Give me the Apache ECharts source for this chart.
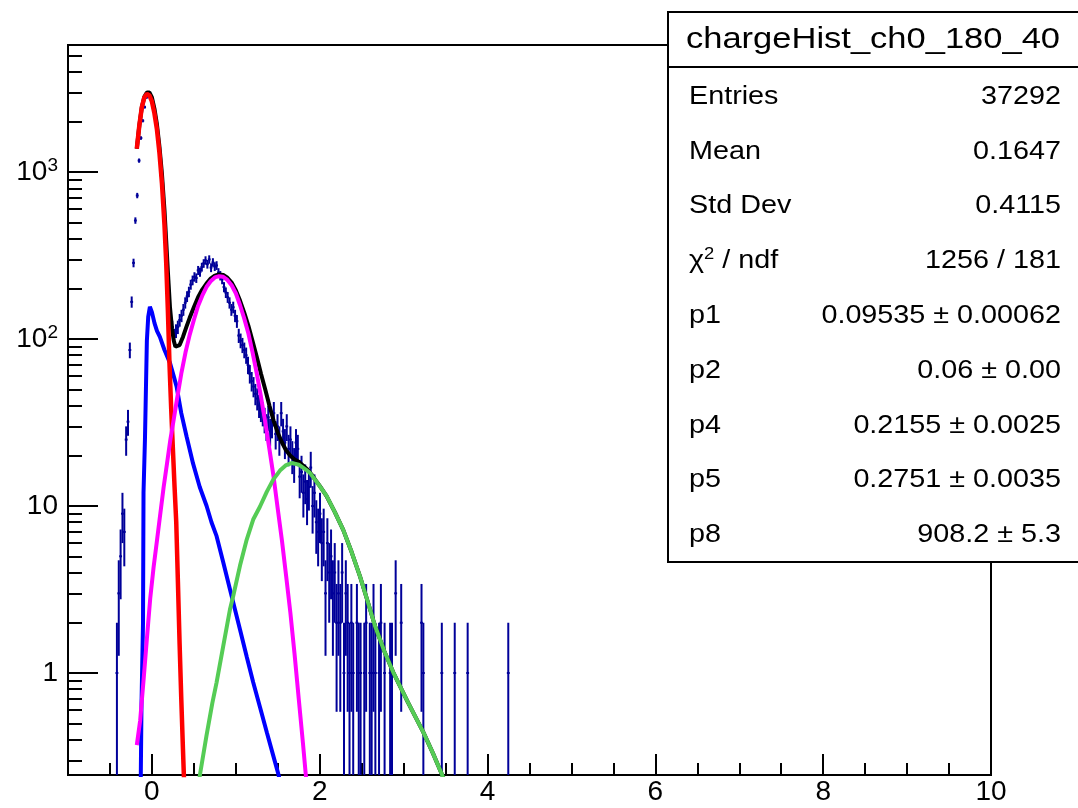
<!DOCTYPE html>
<html><head><meta charset="utf-8">
<script src="https://cdn.jsdelivr.net/npm/echarts@6/dist/echarts.min.js"></script>
<style>html,body{margin:0;padding:0;background:#fff}#c{width:1078px;height:808px}</style>
</head><body><div id="c"></div>
<script>
// ---------- data ----------
const histMin = -1, binWidth = 0.022, firstBin = 26;
const counts = [
 1,3,5,9,7,25,32,86,167,286,
 513,724,1172,1600,2030,2450,2800,2950,2870,2600,
 2300,2000,1650,1300,950,680,450,290,190,140,
 118,105,112,118,130,138,150,165,180,192,
 212,225,236,232,258,252,270,284,296,281,
 300,268,288,272,276,250,240,228,205,190,
 178,165,150,155,138,128,105,98,92,86,
 80,70,62,56,52,47,44,40,38,36,
 33,30,34,28,31,36,27,30,25,36,
 28,24,30,22,25,20,18,24,22,15,
 16,12,14,11,13,17,10,12,8,7,
 9,6,7,3,6,4,5,3,4,2,
 3,2,4,1,3,2,1,2,1,0,
 2,1,1,0,1,2,0,1,1,2,
 1,0,1,2,0,1,0,0,1,1,
 0,3,0,0,2,0,0,0,0,0,
 0,0,0,0,0,2,1,0,0,0,
 0,0,0,0,0,0,1,0,0,0,
 0,0,0,1,0,0,0,0,0,0,
 1,0,0,0,0,0,0,0,0,0,
 0,0,0,0,0,0,0,0,0,0,
 0,0,1
];
const totalFit = [[-0.18,1380],[-0.15,1900],[-0.12,2450],[-0.09,2830],[-0.06,3000],[-0.03,3000],[0.0,2800],[0.03,2400],[0.06,1930],[0.09,1420],[0.12,970],[0.15,590],[0.17,390],[0.19,255],[0.215,156],[0.24,115],[0.26,98],[0.28,90],[0.3,89],[0.33,92],[0.37,103],[0.41,118],[0.45,134],[0.5,155],[0.55,178],[0.6,198],[0.65,215],[0.7,230],[0.75,240],[0.8,244],[0.85,242],[0.9,233],[0.95,218],[1.0,196],[1.05,170],[1.1,144],[1.15,120],[1.2,97],[1.25,78],[1.3,62],[1.35,50],[1.4,40],[1.45,32.5],[1.5,27.5],[1.55,24],[1.6,21.5],[1.65,20],[1.7,19],[1.75,18.4],[1.8,17.5],[1.85,16.6],[1.9,15.5],[1.95,14.3],[2.0,13.2],[2.08,11.5],[2.18,9.2],[2.28,7.2],[2.38,5.3],[2.479,3.8],[2.57,2.7],[2.658,1.92],[2.77,1.35],[2.876,1.01],[3.05,0.67],[3.234,0.443],[3.35,0.33],[3.453,0.249],[3.5,0.22]];
const pedestalFit = [[-0.18,1380],[-0.15,1900],[-0.12,2450],[-0.09,2800],[-0.06,2940],[-0.03,2880],[0.0,2650],[0.03,2250],[0.06,1800],[0.09,1300],[0.12,850],[0.15,480],[0.17,290],[0.19,150],[0.21,70],[0.23,38],[0.25,22],[0.27,13],[0.29,8],[0.31,3.5],[0.33,1.5],[0.35,0.7],[0.37,0.35],[0.39,0.18]];
const expFit = [[-0.14,0.1],[-0.124,0.65],[-0.106,2],[-0.1,12],[-0.083,25],[-0.075,40],[-0.06,98],[-0.044,136],[-0.024,156],[0.0,145],[0.03,125],[0.06,112],[0.095,103],[0.15,86],[0.215,72],[0.26,60],[0.294,52],[0.35,36],[0.414,26],[0.49,18],[0.57,13],[0.652,10],[0.71,8],[0.771,6.6],[0.85,4.6],[0.93,3.17],[0.99,2.4],[1.049,1.83],[1.13,1.25],[1.207,0.88],[1.29,0.62],[1.37,0.44],[1.446,0.32],[1.505,0.25],[1.55,0.2]];
const onePeFit = [[-0.18,0.37],[-0.14,0.52],[-0.1,0.9],[-0.06,1.6],[-0.02,2.8],[0.02,4.3],[0.06,6.2],[0.1,9],[0.14,13],[0.18,18],[0.22,25],[0.26,33],[0.3,44],[0.35,62],[0.4,83],[0.45,106],[0.5,130],[0.55,158],[0.6,182],[0.65,205],[0.7,222],[0.75,234],[0.8,238],[0.85,236],[0.9,226],[0.95,210],[1.0,188],[1.05,160],[1.1,133],[1.15,108],[1.2,83],[1.25,62],[1.3,45],[1.35,32],[1.4,22],[1.45,15],[1.5,9.6],[1.55,6.2],[1.6,3.8],[1.65,2.3],[1.7,1.3],[1.75,0.7],[1.8,0.38],[1.85,0.2],[1.9,0.1]];
const twoPeFit = [[0.55,0.2],[0.572,0.245],[0.65,0.42],[0.72,0.66],[0.771,0.88],[0.85,1.45],[0.93,2.4],[0.969,2.89],[1.05,4.4],[1.13,6.3],[1.207,8.3],[1.287,9.9],[1.37,12.2],[1.446,14.4],[1.526,16.3],[1.6,17.6],[1.665,18.1],[1.75,17.7],[1.83,16.6],[1.883,15.8],[1.98,13.6],[2.082,11.5],[2.18,9.2],[2.28,7.2],[2.38,5.3],[2.479,3.8],[2.57,2.7],[2.658,1.92],[2.77,1.35],[2.876,1.01],[3.05,0.67],[3.234,0.443],[3.35,0.33],[3.453,0.249],[3.55,0.19]];

const xRange = [-1, 10];
const yRange = [0.245, 5770];
const xMajorTicks = [0, 2, 4, 6, 8, 10];
const xMinorTicks = [-0.5, 0.5, 1, 1.5, 2.5, 3, 3.5, 4.5, 5, 5.5, 6.5, 7, 7.5, 8.5, 9, 9.5];
const yMajorTicks = [1, 10, 100, 1000];
const yLabelBase = ['1', '10', '10', '10'];
const yLabelExp = ['', '', '2', '3'];
const yMinorTicks = [0.3,0.4,0.5,0.6,0.7,0.8,0.9, 2,3,4,5,6,7,8,9, 20,30,40,50,60,70,80,90, 200,300,400,500,600,700,800,900, 2000,3000,4000,5000];

const statsTitle = 'chargeHist_ch0_180_40';
const statsNames = ['Entries', 'Mean', 'Std Dev', 'χ2 / ndf', 'p1', 'p2', 'p4', 'p5', 'p8'];
const statsValues = ['37292', '0.1647', '0.4115', '1256 / 181', '0.09535 ± 0.00062', '0.06 ± 0.00', '0.2155 ± 0.0025', '0.2751 ± 0.0035', '908.2 ± 5.3'];

// ---------- build ----------
const histColor = '#000099';
const histData = [];
counts.forEach((n, i) => {
  if (n > 0) histData.push([histMin + (firstBin + i + 0.5) * binWidth, n]);
});

const FONT = '"Liberation Sans", Arial, Helvetica, sans-serif';
const chart = echarts.init(document.getElementById('c'), null, {renderer: 'canvas'});

function fitLine(data, color, z, w) {
  return {type: 'line', data: data, showSymbol: false, symbol: 'none', smooth: false,
    lineStyle: {color: color, width: w}, z: z, clip: true, animation: false,
    xAxisIndex: 0, yAxisIndex: 0};
}

const graphics = [];
graphics.push({type: 'rect', shape: {x: 668, y: 12, width: 420, height: 550},
  style: {fill: '#fff', stroke: '#000', lineWidth: 2}, z: 100});
graphics.push({type: 'line', shape: {x1: 668, y1: 67, x2: 1078, y2: 67},
  style: {stroke: '#000', lineWidth: 2}, z: 101});
graphics.push({type: 'text', x: 873, y: 40, scaleX: 1.15, z: 102,
  style: {text: statsTitle, font: '30px ' + FONT, fill: '#000', align: 'center', verticalAlign: 'middle'}});
statsNames.forEach((nm, i) => {
  const y = 97 + 54.8 * i;
  let txt = nm, rich;
  if (nm.indexOf('χ2') === 0) {
    txt = '{a|χ}{s|2}{a|' + nm.slice(2) + '}';
    rich = {a: {font: '25px ' + FONT, fill: '#000', lineHeight: 30}, s: {font: '16px ' + FONT, fill: '#000', lineHeight: 16, verticalAlign: 'top'}};
  }
  graphics.push({type: 'text', x: 689, y: y, scaleX: 1.15, z: 102,
    style: {text: txt, rich: rich, font: '25px ' + FONT, fill: '#000', align: 'left', verticalAlign: 'middle'}});
  graphics.push({type: 'text', x: 1061, y: y, scaleX: 1.15, z: 102,
    style: {text: statsValues[i], font: '25px ' + FONT, fill: '#000', align: 'right', verticalAlign: 'middle'}});
});

const option = {
  animation: false,
  backgroundColor: '#fff',
  grid: {left: 68, top: 45, right: 87, bottom: 33, show: true, borderColor: '#000', borderWidth: 2, backgroundColor: 'transparent'},
  xAxis: [
    {type: 'value', min: xRange[0], max: xRange[1], position: 'bottom',
      axisLine: {show: false, onZero: false}, splitLine: {show: false},
      axisTick: {show: true, inside: true, length: 21, customValues: xMajorTicks, lineStyle: {color: '#000', width: 2}},
      axisLabel: {show: true, customValues: xMajorTicks, margin: 3, color: '#000', fontSize: 28, fontFamily: FONT,
        formatter: v => String(Math.round(v))}},
    {type: 'value', min: xRange[0], max: xRange[1], position: 'bottom',
      axisLine: {show: false, onZero: false}, splitLine: {show: false}, axisLabel: {show: false},
      axisTick: {show: true, inside: true, length: 12, customValues: xMinorTicks, lineStyle: {color: '#000', width: 2}}}
  ],
  yAxis: [
    {type: 'log', logBase: 10, min: yRange[0], max: yRange[1], position: 'left',
      axisLine: {show: false, onZero: false}, splitLine: {show: false},
      axisTick: {show: true, inside: true, length: 30, customValues: yMajorTicks, lineStyle: {color: '#000', width: 2}},
      axisLabel: {show: true, customValues: yMajorTicks, margin: 10, color: '#000', fontFamily: FONT,
        formatter: v => {
          const i = yMajorTicks.findIndex(t => Math.abs(Math.log10(t) - Math.log10(v)) < 1e-6);
          if (i < 0) return '';
          return yLabelExp[i] ? '{b|' + yLabelBase[i] + '}{s|' + yLabelExp[i] + '}' : '{b|' + yLabelBase[i] + '}';
        },
        rich: {b: {fontSize: 28, fontFamily: FONT, color: '#000', lineHeight: 32},
               s: {fontSize: 19, fontFamily: FONT, color: '#000', lineHeight: 19, verticalAlign: 'top'}}}},
    {type: 'log', logBase: 10, min: yRange[0], max: yRange[1], position: 'left',
      axisLine: {show: false, onZero: false}, splitLine: {show: false}, axisLabel: {show: false},
      axisTick: {show: true, inside: true, length: 14, customValues: yMinorTicks, lineStyle: {color: '#000', width: 2}}}
  ],
  series: [
    {type: 'custom', xAxisIndex: 0, yAxisIndex: 0, data: histData, z: 2, clip: true,
      encode: {x: 0, y: 1},
      renderItem: function (params, api) {
        const c = api.value(0), n = api.value(1);
        const e = Math.sqrt(n);
        const lo = Math.max(n - e, yRange[0]);
        const hi = n + e;
        const pLo = api.coord([c, lo]), pHi = api.coord([c, hi]);
        const pL = api.coord([c - binWidth / 2, n]), pR = api.coord([c + binWidth / 2, n]);
        return {type: 'group', children: [
          {type: 'line', shape: {x1: pLo[0], y1: pLo[1], x2: pHi[0], y2: pHi[1]}, style: {stroke: histColor, lineWidth: 2}},
          {type: 'line', shape: {x1: pL[0] - 0.5, y1: pL[1], x2: pR[0] + 0.5, y2: pR[1]}, style: {stroke: histColor, lineWidth: 2}}
        ]};
      }},
    fitLine(totalFit, '#000000', 3, 4),
    fitLine(expFit, '#0000ff', 4, 4),
    fitLine(pedestalFit, '#ff0000', 5, 4.5),
    fitLine(onePeFit, '#ff00ff', 6, 4),
    fitLine(twoPeFit, '#55cc55', 7, 4)
  ],
  graphic: graphics
};
chart.setOption(option);
</script></body></html>
